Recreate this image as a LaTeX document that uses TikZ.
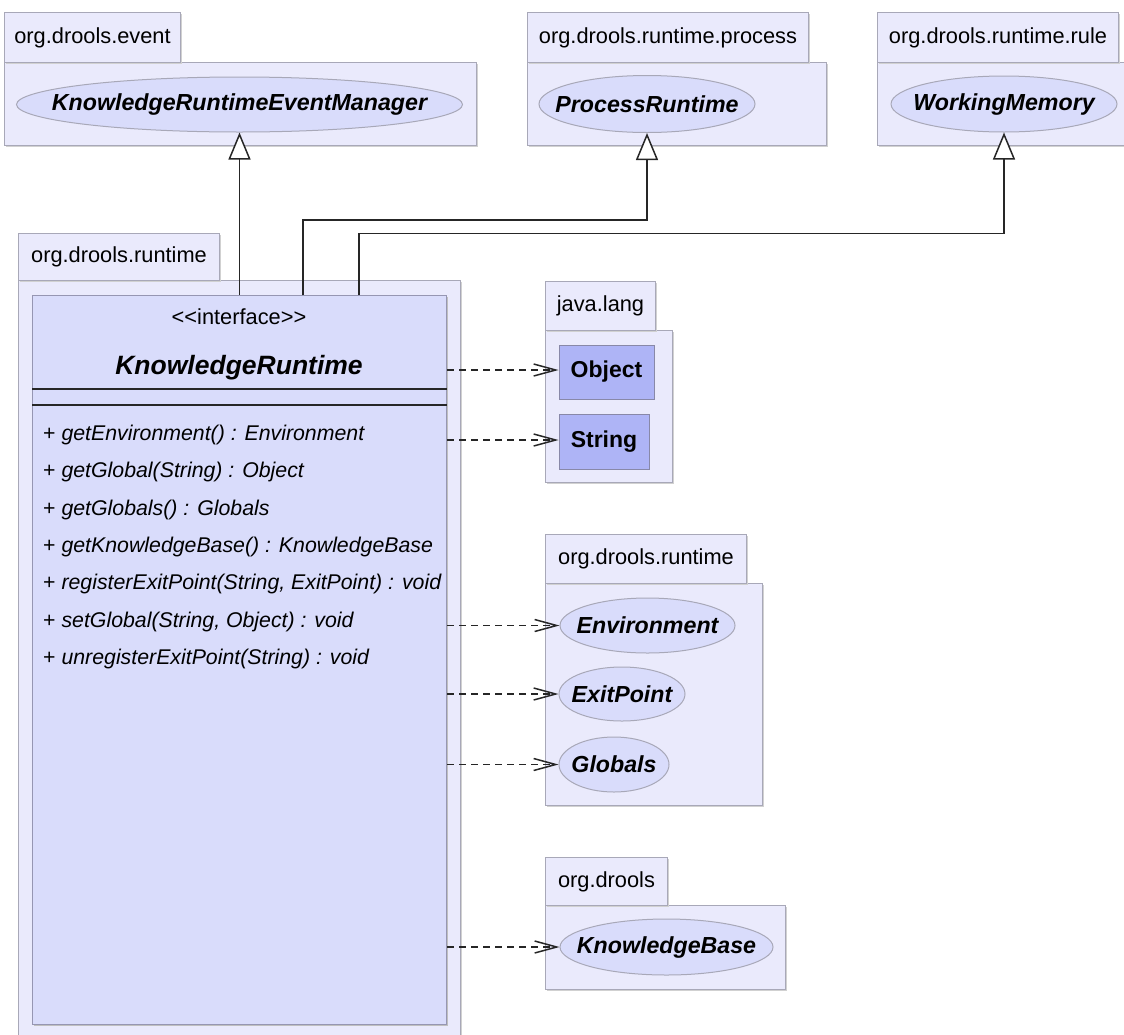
\documentclass[tikz,border=0pt]{standalone}
\usepackage{fontspec}
\setmainfont{Liberation Sans}
\usetikzlibrary{arrows.meta,shapes.geometric,calc,shadows}

\definecolor{pkgfill}{RGB}{234,234,252}
\definecolor{pkgline}{RGB}{168,168,184}
\definecolor{clsfill}{RGB}{217,220,251}
\definecolor{clsline}{RGB}{150,150,178}
\definecolor{boxfill}{RGB}{174,180,246}
\definecolor{boxline}{RGB}{136,136,168}

\newcommand{\lblfont}{\fontsize{21.8}{26}\selectfont}
\newcommand{\memfont}{\fontsize{21.3}{26}\selectfont}
\newcommand{\namefont}{\fontsize{23.2}{27}\selectfont\bfseries\itshape}

\tikzset{
  pkg/.style={draw=pkgline, fill=pkgfill, line width=1pt, inner sep=0pt,
    anchor=north west, font=\lblfont,
    general shadow={fill=black!18, shadow xshift=1pt, shadow yshift=-1pt}},
  iface/.style={ellipse, draw=pkgline, fill=clsfill, line width=1pt, inner sep=0pt},
  etext/.style={font=\namefont, inner sep=0pt},
  cbox/.style={draw=boxline, fill=boxfill, line width=1pt, inner sep=0pt,
    font=\fontsize{23}{27}\selectfont\bfseries},
  cls/.style={draw=clsline, fill=clsfill, line width=1.3pt, inner sep=0pt,
    anchor=north west,
    general shadow={fill=black!25, shadow xshift=1.2pt, shadow yshift=-1.2pt}},
  member/.style={anchor=west, inner sep=0pt, font=\memfont},
  gen/.style={draw=black!85, line width=1.8pt,
    -{Triangle[length=27pt,width=22pt,fill=white,line width=1.5pt]}},
  dep/.style={draw=black!85, line width=1.8pt, dash pattern=on 7pt off 5pt,
    -{Straight Barb[length=22pt,width=12pt,line width=1.5pt]}}
}

\begin{document}
\begin{tikzpicture}[x=1pt,y=-1pt]
\useasboundingbox (0,0) rectangle (1124,1034);

% ---- packages along the top ----
\node[pkg, minimum width=472, minimum height=83] (p1b) at (4,62) {};
\node[pkg, minimum width=176, minimum height=50] (p1t) at (4,12) {org.drools.event};
\node[pkg, minimum width=299, minimum height=83] (p2b) at (527,62) {};
\node[pkg, minimum width=281, minimum height=50] (p2t) at (527,12) {org.drools.runtime.process};
\node[pkg, minimum width=250, minimum height=83] (p3b) at (877,62) {};
\node[pkg, minimum width=241, minimum height=50] (p3t) at (877,12) {org.drools.runtime.rule};

\node[iface, minimum width=446, minimum height=55,
  label={[etext]center:KnowledgeRuntimeEventManager}] (e1) at (239.5,104.5) {};
\node[iface, minimum width=216, minimum height=57,
  label={[etext]center:ProcessRuntime}] (e2) at (647,104) {};
\node[iface, minimum width=226, minimum height=56,
  label={[etext]center:WorkingMemory}] (e3) at (1004,104) {};

% ---- package holding the interface ----
\node[pkg, minimum width=442, minimum height=770] (p4b) at (18,280) {};
\node[pkg, minimum width=201, minimum height=47] (p4t) at (18,233) {org.drools.runtime};

\node[cls, minimum width=414, minimum height=729] (kr) at (32,295) {};
\node[font=\lblfont, inner sep=0pt] (st) at (239,317) {<{}<interface>{}>};
\node[font=\fontsize{26.5}{31}\selectfont\bfseries\itshape, inner sep=0pt] (kn) at (239,368) {KnowledgeRuntime};
\draw[black!85, line width=1.5pt] ($(kr.north west)+(0,94)$) coordinate (s1a) -- ($(kr.north east)+(0,94)$) coordinate (s1b);
\draw[black!85, line width=1.5pt] ($(kr.north west)+(0,110)$) coordinate (s2a) -- ($(kr.north east)+(0,110)$) coordinate (s2b);

\node[member] (m1) at (43,435) {+ \textit{getEnvironment() : Environment}};
\node[member] (m2) at (43,472) {+ \textit{getGlobal(String) : Object}};
\node[member] (m3) at (43,510) {+ \textit{getGlobals() : Globals}};
\node[member] (m4) at (43,547) {+ \textit{getKnowledgeBase() : KnowledgeBase}};
\node[member] (m5) at (43,584) {+ \textit{registerExitPoint(String, ExitPoint) : void}};
\node[member] (m6) at (43,622) {+ \textit{setGlobal(String, Object) : void}};
\node[member] (m7) at (43,659) {+ \textit{unregisterExitPoint(String) : void}};

% ---- java.lang ----
\node[pkg, minimum width=127, minimum height=152] (p5b) at (545,330) {};
\node[pkg, minimum width=110, minimum height=49] (p5t) at (545,281) {java.lang};
\node[cbox, minimum width=95, minimum height=54] (obj) at (606.5,372) {Object};
\node[cbox, minimum width=90, minimum height=55] (str) at (604,441.5) {String};

% ---- org.drools.runtime ----
\node[pkg, minimum width=217, minimum height=222] (p6b) at (545,583) {};
\node[pkg, minimum width=201, minimum height=49] (p6t) at (545,534) {org.drools.runtime};
\node[iface, minimum width=175, minimum height=55,
  label={[etext]center:Environment}] (env) at (647.5,625.5) {};
\node[iface, minimum width=126, minimum height=54,
  label={[etext]center:ExitPoint}] (exit) at (622,694) {};
\node[iface, minimum width=110, minimum height=55,
  label={[etext]center:Globals}] (glob) at (614,764.5) {};

% ---- org.drools ----
\node[pkg, minimum width=240, minimum height=84] (p7b) at (545,905) {};
\node[pkg, minimum width=122, minimum height=48] (p7t) at (545,857) {org.drools};
\node[iface, minimum width=213, minimum height=56,
  label={[etext]center:KnowledgeBase}] (kb) at (666.5,947) {};

% ---- generalisations ----
\draw[gen] (kr.north -| e1.south) -- (e1.south);
\draw[gen] ($(kr.north west)+(271,0)$) |- ($(e2.south)+(0,87)$) -- (e2.south);
\draw[gen] ($(kr.north west)+(327,0)$) |- ($(e3.south)+(0,101)$) -- (e3.south);

% ---- dependencies ----
\draw[dep] ($(obj.west -| kr.east)+(0,-2)$) -- ($(obj.west)+(0,-2)$);
\draw[dep] ($(str.west -| kr.east)+(0,-1.5)$) -- ($(str.west)+(0,-1.5)$);
\draw[dep] (env.west -| kr.east) -- (env.west);
\draw[dep] (exit.west -| kr.east) -- (exit.west);
\draw[dep] (glob.west -| kr.east) -- (glob.west);
\draw[dep] (kb.west -| kr.east) -- (kb.west);
\end{tikzpicture}
\end{document}
